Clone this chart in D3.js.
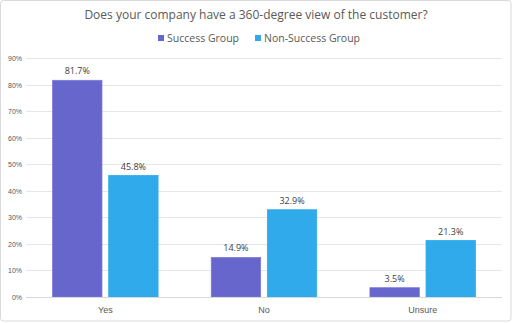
<!DOCTYPE html>
<html><head><meta charset="utf-8">
<script src="https://cdn.jsdelivr.net/npm/d3@7"></script>
<style>body{margin:0;background:#fff;}svg{display:block;font-family:"Open Sans","Noto Sans",sans-serif;}</style>
</head><body>
<svg id="c" width="512" height="323"></svg>
<script>
const categories = ["Yes", "No", "Unsure"];
const seriesNames = ["Success Group", "Non-Success Group"];
const successValues = [81.7, 14.9, 3.5];
const nonSuccessValues = [45.8, 32.9, 21.3];
const yTicks = [0, 10, 20, 30, 40, 50, 60, 70, 80, 90];
const colors = ["#6666cc", "#30aaeb"];
const title = "Does your company have a 360-degree view of the customer?";

const svg = d3.select("#c");
const W = 512, H = 323;
svg.append("rect").attr("x", 0.5).attr("y", 0.5).attr("width", W - 1.5).attr("height", H - 2.5)
  .attr("rx", 3).attr("fill", "#fff").attr("stroke", "#d9d9d9");

const m = {left: 26, right: 502, top: 58.3, bottom: 297};
const x = d3.scaleBand().domain(categories).range([m.left, m.right]).paddingInner(0).paddingOuter(0);
const y = d3.scaleLinear().domain([0, 90]).range([m.bottom, m.top]);
const inner = d3.scaleBand().domain(seriesNames).range([26.6, x.bandwidth() - 26.6]).paddingInner(0.12);

// gridlines
svg.append("g").selectAll("line").data(yTicks.filter(d => d > 0)).join("line")
  .attr("x1", m.left).attr("x2", m.right)
  .attr("y1", d => Math.round(y(d)) + 0.5).attr("y2", d => Math.round(y(d)) + 0.5)
  .attr("stroke", "#e6e6e6").attr("stroke-width", 1);

// y axis labels
const yAxis = d3.axisLeft(y).tickValues(yTicks).tickFormat(d => d + "%").tickSize(0).tickPadding(0);
const ya = svg.append("g").attr("transform", `translate(${m.left - 4},0)`).call(yAxis);
ya.select(".domain").remove();
ya.selectAll("text").attr("fill", "#595959").attr("font-size", 7).attr("text-anchor", "end").attr("dy", "0.32em");

const series = [successValues, nonSuccessValues];
const g = svg.append("g");
categories.forEach((c, i) => {
  seriesNames.forEach((s, j) => {
    const v = series[j][i];
    const bx = x(c) + inner(s);
    g.append("rect").attr("x", bx).attr("y", y(v)).attr("width", inner.bandwidth())
      .attr("height", y(0) - y(v)).attr("fill", colors[j])
      .attr("stroke", j === 0 ? "#7a7ad8" : "#30aaeb").attr("stroke-width", 0.8);
    g.append("text").attr("x", bx + inner.bandwidth() / 2).attr("y", y(v) - 6)
      .attr("text-anchor", "middle").attr("font-size", 9).attr("fill", "#404040")
      .text(v.toFixed(1) + "%");
  });
});

// x axis
svg.append("line").attr("x1", m.left).attr("x2", m.right).attr("y1", m.bottom + 0.5).attr("y2", m.bottom + 0.5)
  .attr("stroke", "#d9d9d9");
const xAxis = d3.axisBottom(x).tickSize(0).tickPadding(0);
const xa = svg.append("g").attr("transform", `translate(0,${m.bottom})`).call(xAxis);
xa.select(".domain").remove();
xa.selectAll("text").attr("fill", "#595959").attr("font-size", 9).attr("dy", "0").attr("y", 16);

// title
svg.append("text").attr("x", W / 2).attr("y", 19).attr("text-anchor", "middle")
  .attr("font-size", 12).attr("fill", "#595959").text(title);

// legend
const leg = svg.append("g");
const legItems = [{name: seriesNames[0], x: 158}, {name: seriesNames[1], x: 255}];
legItems.forEach((d, i) => {
  leg.append("rect").attr("x", d.x).attr("y", 35).attr("width", 6).attr("height", 6).attr("fill", colors[i]);
  leg.append("text").attr("x", d.x + 9).attr("y", 42).attr("font-size", 10.5).attr("fill", "#595959").text(d.name);
});
</script>
</body></html>
